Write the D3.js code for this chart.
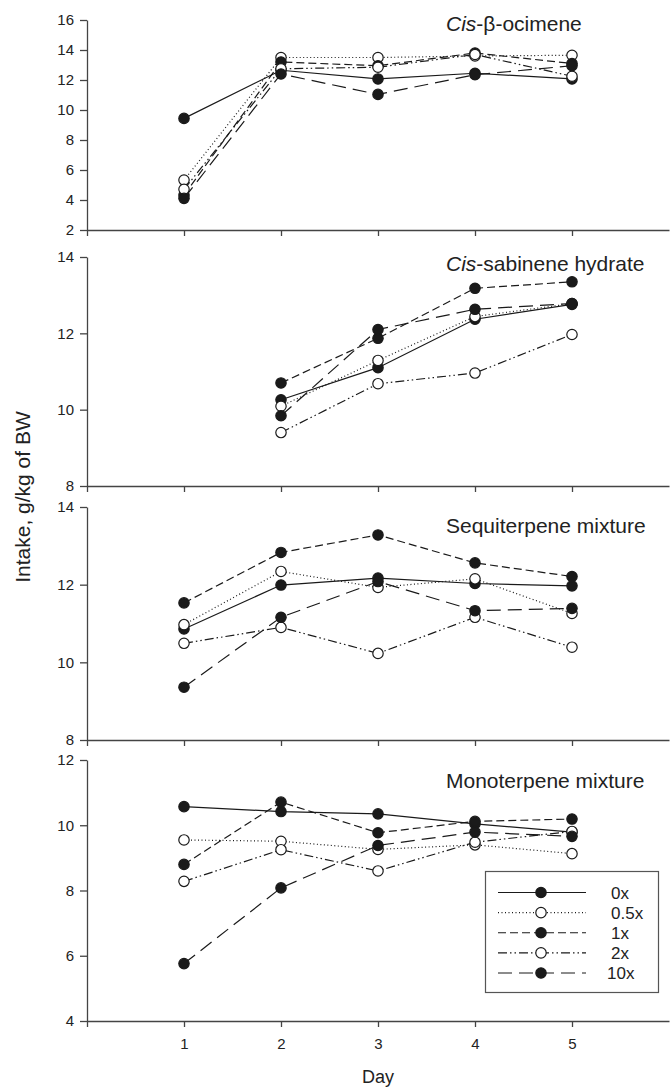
<!DOCTYPE html>
<html>
<head>
<meta charset="utf-8">
<script src="https://cdn.jsdelivr.net/npm/d3@7"></script>
<style>
  body { margin: 0; background: #fff; }
  svg { font-family: "Liberation Sans", Arial, sans-serif; }
  .axis path, .axis line { stroke: #444; stroke-width: 1.3; }
</style>
</head>
<body>
<div id="chart"></div>
<script>
// intake by day for each terpene treatment and dose
var days = [1, 2, 3, 4, 5];
var doses = ["0x", "0.5x", "1x", "2x", "10x"];

// one row per dose, in the order of doses
var ocimene = [
  [9.44, 12.65, 12.07, 12.45, 12.07],
  [5.33, 13.5, 13.5, 13.6, 13.65],
  [4.33, 13.2, 12.95, 13.8, 13.1],
  [4.71, 12.75, 12.85, 13.7, 12.25],
  [4.11, 12.4, 11.04, 12.35, 12.95]
];
var sabinene = [
  [null, 10.26, 11.10, 12.37, 12.76],
  [null, 10.09, 11.29, 12.44, 12.78],
  [null, 10.70, 11.87, 13.18, 13.35],
  [null, 9.40, 10.68, 10.96, 11.97],
  [null, 9.84, 12.10, 12.63, 12.78]
];
var sesquiterpene = [
  [10.86, 11.99, 12.17, 12.03, 11.97],
  [10.97, 12.34, 11.93, 12.15, 11.26],
  [11.53, 12.83, 13.28, 12.56, 12.21],
  [10.49, 10.90, 10.23, 11.16, 10.39],
  [9.36, 11.16, 12.08, 11.33, 11.39]
];
var monoterpene = [
  [10.57, 10.42, 10.35, 10.04, 9.79],
  [9.55, 9.51, 9.26, 9.40, 9.13],
  [8.80, 10.71, 9.77, 10.12, 10.19],
  [8.28, 9.25, 8.60, 9.48, 9.81],
  [5.76, 8.08, 9.38, 9.79, 9.66]
];

var xTicks = [0, 1, 2, 3, 4, 5];
var yDomains = [[2, 16], [8, 14], [8, 14], [4, 12]];
var yTicks = [
  [2, 4, 6, 8, 10, 12, 14, 16],
  [8, 10, 12, 14],
  [8, 10, 12, 14],
  [4, 6, 8, 10, 12]
];
var titles = [
  ["Cis", "-\u03b2-ocimene"],
  ["Cis", "-sabinene hydrate"],
  ["", "Sequiterpene mixture"],
  ["", "Monoterpene mixture"]
];
var panelData = [ocimene, sabinene, sesquiterpene, monoterpene];

// pixel layout of the four stacked panels
var panelRanges = [[230, 20], [486, 257], [740, 507], [1021, 760]];
var titleY = [31, 271, 533, 788];

var svgWidth = 670;
var svgHeight = 1089;

var svg = d3.select("#chart")
  .append("svg")
  .attr("width", svgWidth)
  .attr("height", svgHeight);

var xScale = d3.scaleLinear().domain([0, 6]).range([87, 669]);

// line style per dose
var dashes = ["none", "1,2.5", "8,4", "9,3,1.5,3,1.5,3", "14,7"];
var filled = [true, false, true, false, true];
var ink = "#1a1a1a";

function styleAxis(sel) {
  sel.attr("font-family", "'Liberation Sans', Arial, sans-serif")
    .attr("font-size", "15px");
  sel.selectAll("text").attr("fill", "#222");
}

panelData.forEach(function(series, p) {
  var yScale = d3.scaleLinear().domain(yDomains[p]).range(panelRanges[p]);
  var g = svg.append("g");

  // x axis
  g.append("g")
    .attr("class", "axis")
    .attr("transform", "translate(0," + panelRanges[p][0] + ")")
    .call(d3.axisBottom(xScale)
      .tickValues(xTicks)
      .tickSize(6)
      .tickSizeOuter(0)
      .tickPadding(11)
      .tickFormat(function(d) { return (p === 3 && d > 0) ? d : ""; }))
    .call(styleAxis);

  // y axis
  g.append("g")
    .attr("class", "axis")
    .attr("transform", "translate(87,0)")
    .call(d3.axisLeft(yScale)
      .tickValues(yTicks[p])
      .tickSize(7)
      .tickSizeOuter(0)
      .tickPadding(6)
      .tickFormat(d3.format("d")))
    .call(styleAxis);

  var line = d3.line()
    .defined(function(d) { return d != null; })
    .x(function(d, i) { return xScale(days[i]); })
    .y(function(d) { return yScale(d); });

  series.forEach(function(vals, s) {
    g.append("path")
      .attr("d", line(vals))
      .attr("fill", "none")
      .attr("stroke", ink)
      .attr("stroke-width", 1.2)
      .attr("stroke-dasharray", dashes[s]);
  });

  series.forEach(function(vals, s) {
    g.selectAll(".m" + s)
      .data(vals.map(function(v, i) { return { day: days[i], v: v }; })
        .filter(function(d) { return d.v != null; }))
      .enter().append("circle")
      .attr("cx", function(d) { return xScale(d.day); })
      .attr("cy", function(d) { return yScale(d.v); })
      .attr("r", 5.2)
      .attr("fill", filled[s] ? ink : "#fff")
      .attr("stroke", ink)
      .attr("stroke-width", 1.2);
  });

  var t = g.append("text")
    .attr("x", 446)
    .attr("y", titleY[p])
    .attr("font-size", "21px")
    .attr("fill", "#222");
  if (titles[p][0]) {
    t.append("tspan").attr("font-style", "italic").text(titles[p][0]);
  }
  t.append("tspan").text(titles[p][1]);
});

// axis titles
svg.append("text")
  .attr("transform", "translate(30,497) rotate(-90)")
  .attr("text-anchor", "middle")
  .attr("font-size", "21px")
  .attr("fill", "#222")
  .text("Intake, g/kg of BW");

svg.append("text")
  .attr("x", xScale(3))
  .attr("y", 1083)
  .attr("text-anchor", "middle")
  .attr("font-size", "18px")
  .attr("fill", "#222")
  .text("Day");

// legend
var legend = svg.append("g");
legend.append("rect")
  .attr("x", 485.5)
  .attr("y", 871.5)
  .attr("width", 173)
  .attr("height", 121)
  .attr("fill", "#fff")
  .attr("stroke", "#555")
  .attr("stroke-width", 1.2);

var legendY = d3.scalePoint().domain(doses).range([892.5, 973]);

doses.forEach(function(dose, s) {
  var y = legendY(dose);
  legend.append("line")
    .attr("x1", 498).attr("x2", 586)
    .attr("y1", y).attr("y2", y)
    .attr("stroke", ink)
    .attr("stroke-width", 1.2)
    .attr("stroke-dasharray", dashes[s]);
  legend.append("circle")
    .attr("cx", 541).attr("cy", y)
    .attr("r", 5.2)
    .attr("fill", filled[s] ? ink : "#fff")
    .attr("stroke", ink)
    .attr("stroke-width", 1.2);
  legend.append("text")
    .attr("x", dose === "10x" ? 607 : 611)
    .attr("y", y + 6)
    .attr("font-size", "17px")
    .attr("fill", "#222")
    .text(dose);
});
</script>
</body>
</html>
